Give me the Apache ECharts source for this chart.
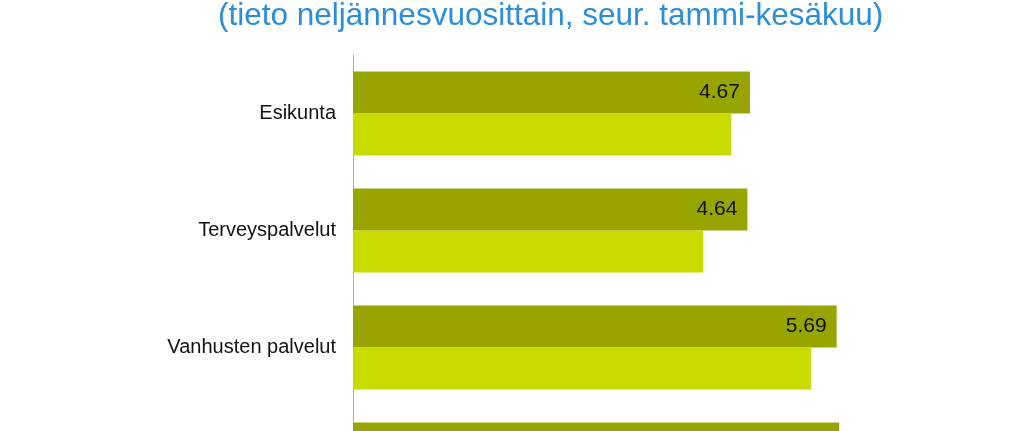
<!DOCTYPE html>
<html>
<head>
<meta charset="utf-8">
<script src="https://cdn.jsdelivr.net/npm/echarts@6/dist/echarts.min.js"></script>
<style>
html,body{margin:0;padding:0;background:#fff;overflow:hidden;width:1024px;height:431px;}
#chart{width:1024px;height:523px;}
</style>
</head>
<body>
<div id="chart"></div>
<script>
const subtitle = '(tieto neljännesvuosittain, seur. tammi-kesäkuu)';
const categories = ['Esikunta', 'Terveyspalvelut', 'Vanhusten palvelut', ''];
const currentValues = [4.67, 4.64, 5.69, 5.72];
const previousValues = [4.45, 4.12, 5.39, 5.40];

const font = "'Liberation Sans', Arial, sans-serif";

const chart = echarts.init(document.getElementById('chart'), null, {renderer: 'canvas'});
chart.setOption({
  animation: false,
  backgroundColor: '#ffffff',
  title: {
    text: subtitle,
    left: 213,
    top: -5,
    textStyle: {
      fontFamily: font,
      fontSize: 31.5,
      fontWeight: 'normal',
      color: '#2B8EDC'
    }
  },
  grid: {
    left: 353,
    top: 55,
    width: 595,
    height: 468,
    containLabel: false
  },
  xAxis: {
    type: 'value',
    min: 0,
    max: 7,
    show: false
  },
  yAxis: {
    type: 'category',
    data: categories,
    inverse: true,
    axisLine: {show: true, lineStyle: {color: '#B0B0B0', width: 1}},
    axisTick: {show: false},
    axisLabel: {
      margin: 17,
      fontFamily: font,
      fontSize: 20,
      color: '#111111'
    }
  },
  series: [
    {
      name: 'current',
      type: 'bar',
      data: currentValues,
      barWidth: 42,
      barGap: '0%',
      itemStyle: {color: '#98A400'},
      label: {
        show: true,
        position: 'insideRight',
        distance: 10,
        fontFamily: font,
        fontSize: 21,
        color: '#111111'
      }
    },
    {
      name: 'previous',
      type: 'bar',
      data: previousValues,
      barWidth: 42,
      barGap: '0%',
      itemStyle: {color: '#C8DC00'}
    }
  ]
});
</script>
</body>
</html>
